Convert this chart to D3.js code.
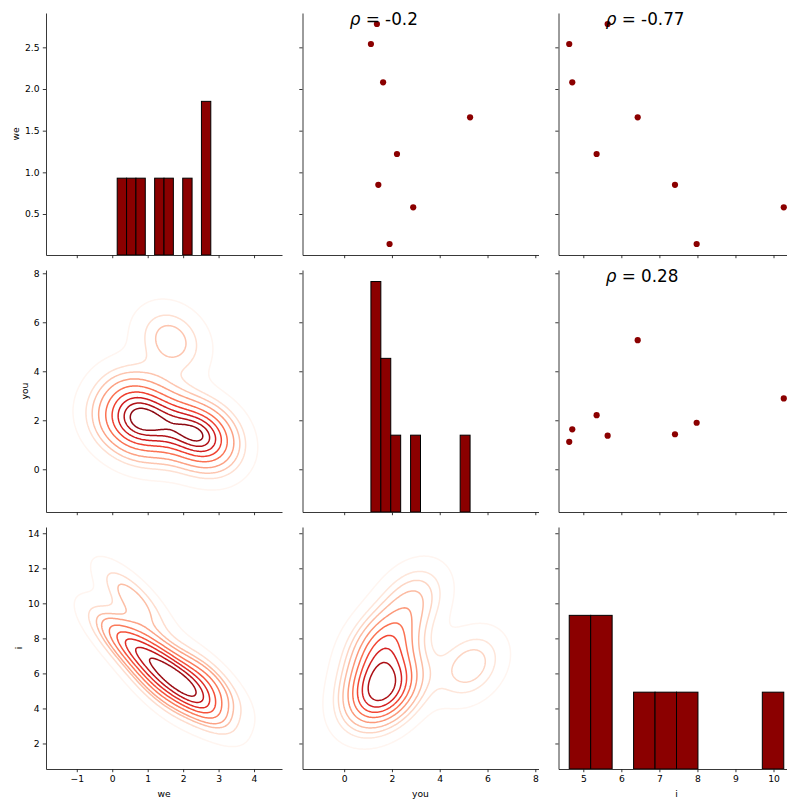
<!DOCTYPE html>
<html>
<head>
<meta charset="utf-8">
<script src="https://d3js.org/d3.v7.min.js"></script>
<style>
  body { margin: 0; background: #fff; }
  text { font-family: "DejaVu Sans", sans-serif; fill: #000; }
</style>
</head>
<body>
<div id="chart"></div>
<script>
// values (same 8 rows in each array)
var we  = [2.78, 2.54, 2.08, 1.66, 1.22, 0.85, 0.58, 0.14];
var you = [1.37, 1.12, 1.63, 5.27, 2.21, 1.43, 2.89, 1.90];
var iv  = [5.64, 4.63, 4.71, 6.43, 5.35, 7.41, 10.27, 7.98];
var varNames = ["we", "you", "i"];

// correlation annotations in the upper panels
var rhoLabels = { "0,1": "-0.2", "0,2": "-0.77", "1,2": "0.28" };

// tick values per column (x) and per row (y)
var xTicks = [[-1, 0, 1, 2, 3, 4], [0, 2, 4, 6, 8], [5, 6, 7, 8, 9, 10]];
var yTicks = [[0.5, 1.0, 1.5, 2.0, 2.5], [0, 2, 4, 6, 8], [2, 4, 6, 8, 10, 12, 14]];
var yTickFormats = [".1f", "d", "d"];

// matplotlib "Reds" anchor colours
var redsColors = ["#fff5f0", "#fee0d2", "#fcbba1", "#fc9272", "#fb6a4a",
                  "#ef3b2c", "#cb181d", "#a50f15", "#67000d"];

var allVars = [we, you, iv];
var nVars = allVars.length;

// layout of the 3x3 grid
var colLeft = [46, 302.5, 558.5], rowTop = [13, 270, 527];
var W = 236, H = 242;
var tickLen = 3.2, tickPad = 3.2, fontTick = 9.2, fontLabel = 9.2;

var svg = d3.select("#chart").append("svg")
    .attr("width", 787).attr("height", 804);

// scott bandwidth as used by scipy gaussian_kde in 2d
function kdeBw(v) { return d3.deviation(v) * Math.pow(v.length, -1 / 6); }
function kdeDomain(v) { var b = kdeBw(v); return [d3.min(v) - 3 * b, d3.max(v) + 3 * b]; }
function padDomain(v) { var e = d3.extent(v), p = (e[1] - e[0]) * 0.05; return [e[0] - p, e[1] + p]; }

// columns 0,1 and rows 1,2 hold kde panels, so their limits follow the kde grid
var xScales = d3.range(nVars).map(function(c) {
  var dom = c < nVars - 1 ? kdeDomain(allVars[c]) : padDomain(allVars[c]);
  return d3.scaleLinear().domain(dom).range([0, W]);
});
var yScales = d3.range(nVars).map(function(r) {
  var dom = r > 0 ? kdeDomain(allVars[r]) : padDomain(allVars[r]);
  return d3.scaleLinear().domain(dom).range([H, 0]);
});

// histograms (10 equal bins, like plt.hist)
var hists = allVars.map(function(v) {
  var e = d3.extent(v), w = (e[1] - e[0]) / 10;
  var th = d3.range(1, 10).map(function(k) { return e[0] + k * w; });
  return d3.bin().domain(e).thresholds(th)(v);
});
var maxCount = d3.max(hists, function(h) { return d3.max(h, function(b) { return b.length; }); });
var diagY = d3.scaleLinear().domain([0, maxCount * 1.05]).range([H, 0]);

// 2d gaussian kde on a 200x200 grid, seaborn-style iso-proportion levels
function kde2d(xs, ys, xd, yd) {
  var n = xs.length, G = 200;
  var mx = d3.mean(xs), my = d3.mean(ys);
  var sxx = 0, syy = 0, sxy = 0;
  for (var p = 0; p < n; p++) {
    sxx += (xs[p] - mx) * (xs[p] - mx);
    syy += (ys[p] - my) * (ys[p] - my);
    sxy += (xs[p] - mx) * (ys[p] - my);
  }
  var f2 = Math.pow(n, -1 / 3);
  var cxx = sxx / (n - 1) * f2, cyy = syy / (n - 1) * f2, cxy = sxy / (n - 1) * f2;
  var det = cxx * cyy - cxy * cxy;
  var ixx = cyy / det, iyy = cxx / det, ixy = -cxy / det;
  var norm = 1 / (2 * Math.PI * Math.sqrt(det) * n);
  var values = new Float64Array(G * G);
  for (var j = 0; j < G; j++) {
    var y = yd[0] + (yd[1] - yd[0]) * j / (G - 1);
    for (var k = 0; k < G; k++) {
      var x = xd[0] + (xd[1] - xd[0]) * k / (G - 1), s = 0;
      for (var q = 0; q < n; q++) {
        var dx = x - xs[q], dy = y - ys[q];
        s += Math.exp(-0.5 * (ixx * dx * dx + 2 * ixy * dx * dy + iyy * dy * dy));
      }
      values[j * G + k] = s * norm;
    }
  }
  var sorted = Array.from(values).sort(function(a, b) { return b - a; });
  var total = d3.sum(sorted), cum = [], acc = 0;
  sorted.forEach(function(v) { acc += v; cum.push(acc / total); });
  var levels = d3.range(10).map(function(m) {
    var qq = 0.05 + m * 0.95 / 9;
    var idx = d3.bisectLeft(cum, 1 - qq);
    return sorted[Math.min(idx, sorted.length - 1)];
  });
  return { G: G, values: values, levels: levels };
}

function drawAxes(g, r, c, xs, ys) {
  var xa = d3.axisBottom(xs).tickValues(xTicks[c]).tickSize(tickLen).tickSizeOuter(0).tickPadding(tickPad)
      .tickFormat(d3.format("d"));
  if (r !== nVars - 1) xa.tickFormat("");
  var ya = d3.axisLeft(ys).tickValues(yTicks[r]).tickSize(tickLen).tickSizeOuter(0).tickPadding(tickPad)
      .tickFormat(d3.format(yTickFormats[r]));
  if (c !== 0) ya.tickFormat("");
  var gx = g.append("g").attr("transform", "translate(0," + H + ")").call(xa);
  var gy = g.append("g").call(ya);
  [gx, gy].forEach(function(a) {
    a.selectAll("path").attr("stroke", "#222").attr("stroke-width", 0.9);
    a.selectAll("line").attr("stroke", "#222").attr("stroke-width", 0.9);
    a.selectAll("text").attr("font-size", fontTick).attr("font-family", "DejaVu Sans").attr("fill", "#222");
  });
  return gy;
}

for (var r = 0; r < nVars; r++) {
  for (var c = 0; c < nVars; c++) {
    var g = svg.append("g").attr("transform", "translate(" + colLeft[c] + "," + rowTop[r] + ")");
    var xs = xScales[c], ys = yScales[r];
    var clipId = "clip" + r + c;
    g.append("clipPath").attr("id", clipId).append("rect").attr("width", W).attr("height", H);
    var plot = g.append("g").attr("clip-path", "url(#" + clipId + ")");

    if (r === c) {
      plot.selectAll("rect.bar")
        .data(hists[c].filter(function(b) { return b.length > 0; }))
        .enter().append("rect")
        .attr("x", function(b) { return xs(b.x0); })
        .attr("width", function(b) { return xs(b.x1) - xs(b.x0); })
        .attr("y", function(b) { return diagY(b.length); })
        .attr("height", function(b) { return diagY(0) - diagY(b.length); })
        .attr("fill", "#8b0000").attr("stroke", "#000").attr("stroke-width", 1);
    } else if (c > r) {
      var xv = allVars[c], yv = allVars[r];
      plot.selectAll("circle")
        .data(d3.range(xv.length))
        .enter().append("circle")
        .attr("cx", function(k) { return xs(xv[k]); })
        .attr("cy", function(k) { return ys(yv[k]); })
        .attr("r", 3.1)
        .attr("fill", "#8b0000");
      var t = g.append("text").attr("x", W * 0.2).attr("y", H * 0.05).attr("font-size", 16.8)
        .attr("fill", "#111");
      t.append("tspan").attr("font-style", "italic").text("ρ");
      t.append("tspan").text(" = " + rhoLabels[r + "," + c]);
    } else {
      var dens = kde2d(allVars[c], allVars[r], xs.domain(), ys.domain());
      var G = dens.G, levels = dens.levels;
      var lo = levels[0], hi = levels[levels.length - 1];
      var color = d3.scaleLinear()
        .domain(redsColors.map(function(_, k) { return lo + (hi - lo) * k / (redsColors.length - 1); }))
        .range(redsColors);
      var xd = xs.domain(), yd = ys.domain();
      var proj = d3.geoTransform({
        point: function(px, py) {
          var dxv = xd[0] + (px - 0.5) * (xd[1] - xd[0]) / (G - 1);
          var dyv = yd[0] + (py - 0.5) * (yd[1] - yd[0]) / (G - 1);
          this.stream.point(xs(dxv), ys(dyv));
        }
      });
      var path = d3.geoPath(proj);
      var conts = d3.contours().size([G, G]).thresholds(levels.slice(0, -1))(dens.values);
      plot.selectAll("path.kde")
        .data(conts)
        .enter().append("path")
        .attr("d", path)
        .attr("fill", "none")
        .attr("stroke", function(d) { return color(d.value); })
        .attr("stroke-width", 1.5);
    }

    var gy = drawAxes(g, r, c, xs, ys);

    if (c === 0) {
      var bb = gy.node().getBBox();
      g.append("text")
        .attr("transform", "translate(" + (bb.x - 5.9) + "," + (H / 2) + ") rotate(-90)")
        .attr("text-anchor", "middle")
        .attr("font-size", fontLabel)
        .attr("fill", "#222")
        .text(varNames[r]);
    }
    if (r === nVars - 1) {
      g.append("text")
        .attr("x", W / 2).attr("y", H + 28)
        .attr("text-anchor", "middle")
        .attr("font-size", fontLabel)
        .attr("fill", "#222")
        .text(varNames[c]);
    }
  }
}
</script>
</body>
</html>
